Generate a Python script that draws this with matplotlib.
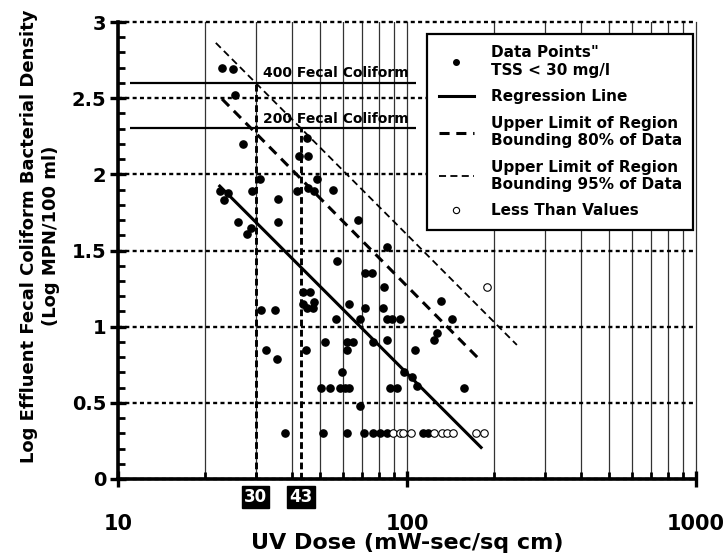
import matplotlib
matplotlib.use('Agg')
import matplotlib.pyplot as plt
import matplotlib.transforms as mtransforms
from matplotlib.lines import Line2D
from matplotlib.ticker import MultipleLocator, LogLocator, NullFormatter

plt.rcParams['font.family'] = 'DejaVu Sans'
plt.rcParams['font.weight'] = 'bold'

# UV dose (mW-sec/sq cm) and log effluent fecal coliform, TSS < 30 mg/l
dose = [22.9, 24.9, 25.3, 27.1, 45.0, 42.3, 45.6, 31.1, 48.8, 22.5,
        24.0, 23.3, 29.0, 35.9, 41.5, 45.4, 47.5, 55.3, 26.0, 28.9,
        27.9, 35.9, 67.7, 85.5, 57.4, 71.3, 75.5, 83.5, 131, 43.6,
        46.2, 43.6, 45.0, 47.7, 47.2, 62.9, 71.6, 82.6, 31.3, 34.8,
        56.8, 68.8, 85.5, 88.9, 94.2, 143, 127, 124, 32.4, 35.4,
        44.6, 52.1, 61.9, 65.2, 61.9, 76.0, 85.4, 107, 59.5, 97.8,
        104, 108, 50.2, 54.2, 58.7, 60.8, 63.0, 87.4, 92.7, 157,
        68.8, 37.8, 51.4, 61.9, 71.0, 76.1, 80.7, 85.5, 114, 118]
log_fc = [2.70, 2.69, 2.52, 2.20, 2.24, 2.12, 2.12, 1.97, 1.97, 1.89,
          1.88, 1.83, 1.89, 1.84, 1.89, 1.91, 1.89, 1.90, 1.69, 1.65,
          1.61, 1.69, 1.70, 1.52, 1.43, 1.35, 1.35, 1.26, 1.17, 1.23,
          1.23, 1.15, 1.12, 1.16, 1.12, 1.15, 1.12, 1.12, 1.11, 1.11,
          1.05, 1.05, 1.05, 1.05, 1.05, 1.05, 0.96, 0.91, 0.85, 0.79,
          0.85, 0.90, 0.90, 0.90, 0.85, 0.90, 0.91, 0.85, 0.70, 0.70,
          0.67, 0.61, 0.60, 0.60, 0.60, 0.60, 0.60, 0.60, 0.60, 0.60,
          0.48, 0.30, 0.30, 0.30, 0.30, 0.30, 0.30, 0.30, 0.30, 0.30]

# "less than" values
dose_lt = [89.4, 94.6, 96.9, 103, 124, 132, 137, 144, 173, 184, 189]
log_lt = [0.30, 0.30, 0.30, 0.30, 0.30, 0.30, 0.30, 0.30, 0.30, 0.30, 1.26]

# fitted lines (end points)
reg_x, reg_y = [22.3, 182], [1.93, 0.20]
lim80_x, lim80_y = [22.9, 177], [2.495, 0.79]
lim95_x, lim95_y = [21.8, 240], [2.863, 0.88]

# standards
std_labels = ['400 Fecal Coliform', '200 Fecal Coliform']
std_levels = [2.602, 2.301]
std_x = [11.0, 107.4]
design_doses = [30, 43]

fig = plt.figure(figsize=(7.27, 5.54), dpi=100)
ax = fig.add_axes([118 / 727, 1 - 479 / 554, 578 / 727, 457 / 554])

ax.set_xscale('log')
ax.set_xlim(10, 1000)
ax.set_ylim(0, 3)

# grid
ax.xaxis.set_minor_locator(LogLocator(base=10, subs=range(2, 10)))
ax.xaxis.set_minor_formatter(NullFormatter())
ax.yaxis.set_minor_locator(MultipleLocator(0.1))
ax.set_yticks([0, 0.5, 1, 1.5, 2, 2.5, 3], ['0', '0.5', '1', '1.5', '2', '2.5', '3'])
ax.set_xticks([10, 100, 1000], ['10', '100', '1000'])
ax.xaxis.grid(True, which='both', color='#333333', lw=0.9, ls='-')
ax.yaxis.grid(True, which='major', color='black', lw=1.7, ls=(0, (1.7, 1.4)))
for gl in ax.get_ygridlines():
    gl.set_clip_on(False)
for gl in ax.get_xgridlines():
    gl.set_clip_on(False)
ax.set_axisbelow(True)

for s in ['top', 'right']:
    ax.spines[s].set_visible(False)
for s in ['left', 'bottom']:
    ax.spines[s].set_linewidth(2.6)

ax.tick_params(which='major', direction='inout', length=11, width=2.4,
               labelsize=14, top=False, right=False)
ax.tick_params(axis='y', which='major', pad=3)
ax.tick_params(axis='x', which='major', pad=20, labelsize=15)
ax.tick_params(which='minor', direction='in', length=5, width=2,
               top=False, right=False)

# standards and design doses
for lab, lev in zip(std_labels, std_levels):
    ax.plot(std_x, [lev, lev], color='black', lw=1.6, solid_capstyle='butt')
    ax.text(31.8, lev + 0.035, lab, fontsize=10, ha='left', va='baseline')
for d, lev in zip(design_doses, std_levels):
    ax.plot([d, d], [0, lev], color='black', lw=2.1, ls=(0, (2.3, 1.2)))

blend = mtransforms.blended_transform_factory(ax.transData, ax.transAxes)
for d in design_doses:
    ax.text(d, -0.04, str(d), transform=blend, ha='center', va='center',
            color='white', fontsize=12, clip_on=False,
            bbox=dict(boxstyle='square,pad=0.12', fc='black', ec='black'))

# data
ax.plot(dose, log_fc, 'o', ms=5.2, color='black', mec='black', ls='none')
ax.plot(dose_lt, log_lt, 'o', ms=5.4, mfc='white', mec='black', mew=0.8, ls='none')
ax.plot(reg_x, reg_y, color='black', lw=2.2, solid_capstyle='butt')
ax.plot(lim80_x, lim80_y, color='black', lw=2.2, ls=(0, (3.3, 2.2)))
ax.plot(lim95_x, lim95_y, color='black', lw=1.3, ls=(0, (3.9, 2.4)))

handles = [
    Line2D([], [], marker='o', ms=4, color='black', ls='none'),
    Line2D([], [], color='black', lw=2.2),
    Line2D([], [], color='black', lw=2.2, ls=(0, (3.3, 2.2))),
    Line2D([], [], color='black', lw=1.3, ls=(0, (3.9, 2.4))),
    Line2D([], [], marker='o', ms=4.5, mfc='white', mec='black', mew=0.8, ls='none'),
]
labels = ['Data Points"\nTSS < 30 mg/l', 'Regression Line',
          'Upper Limit of Region\nBounding 80% of Data',
          'Upper Limit of Region\nBounding 95% of Data', 'Less Than Values']
leg = ax.legend(handles, labels, loc='upper left', bbox_to_anchor=(0.535, 0.974),
                borderaxespad=0, fontsize=11, frameon=True, fancybox=False,
                edgecolor='black', framealpha=1, handlelength=2.3,
                handletextpad=1.1, labelspacing=0.75, borderpad=0.75)
leg.get_frame().set_linewidth(1.6)

fig.text(407 / 727, 1 - 543 / 554, 'UV Dose (mW-sec/sq cm)', fontsize=16,
         ha='center', va='center')
fig.text(40 / 727, 1 - 236 / 554,
         'Log Effluent Fecal Coliform Bacterial Density\n(Log MPN/100 ml)',
         rotation=90, ha='center', va='center', fontsize=13,
         multialignment='center', linespacing=1.3)

fig.savefig('out.png', dpi=100)
